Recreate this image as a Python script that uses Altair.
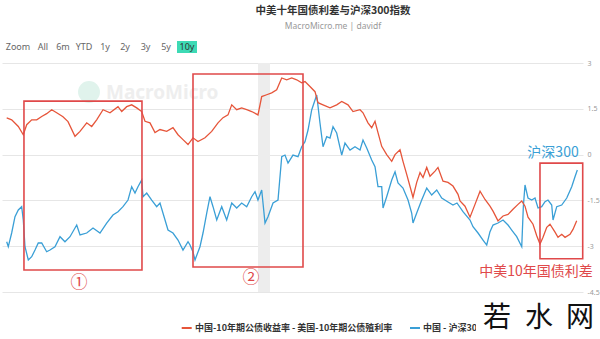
import altair as alt
import pandas as pd

# ---------------- data ----------------
TITLE = "中美十年国债利差与沪深300指数"
SUBTITLE = "MacroMicro.me | davidf"
SPREAD_NAME = "中国-10年期公债收益率 - 美国-10年期公债殖利率"
CSI_NAME = "中国 - 沪深300"
BUTTONS = ["Zoom", "All", "6m", "YTD", "1y", "2y", "3y", "5y", "10y"]

# China-US 10y spread (decimal year, percentage points) - right axis
spread_t = [2015.708, 2015.795, 2015.911, 2015.998, 2016.058, 2016.145, 2016.233, 2016.320, 2016.407, 2016.495,
            2016.582, 2016.692, 2016.780, 2016.902, 2016.990, 2017.107, 2017.194, 2017.281, 2017.392, 2017.514,
            2017.654, 2017.719, 2017.806, 2017.893, 2017.981, 2018.068, 2018.126, 2018.213, 2018.301, 2018.388,
            2018.505, 2018.615, 2018.703, 2018.790, 2018.878, 2018.965, 2019.052, 2019.175, 2019.292, 2019.402,
            2019.490, 2019.577, 2019.642, 2019.729, 2019.816, 2019.904, 2019.991, 2020.101, 2020.166, 2020.253,
            2020.341, 2020.428, 2020.516, 2020.603, 2020.691, 2020.778, 2020.865, 2020.923, 2021.010, 2021.098,
            2021.150, 2021.238, 2021.360, 2021.477, 2021.565, 2021.675, 2021.762, 2021.885, 2021.937, 2022.024,
            2022.089, 2022.147, 2022.199, 2022.264, 2022.351, 2022.439, 2022.497, 2022.584, 2022.636, 2022.701,
            2022.788, 2022.811, 2022.876, 2022.934, 2022.986, 2023.051, 2023.108, 2023.196, 2023.248, 2023.336,
            2023.423, 2023.510, 2023.598, 2023.633, 2023.720, 2023.808, 2023.895, 2023.983, 2024.070, 2024.157,
            2024.210, 2024.297, 2024.385, 2024.472, 2024.559, 2024.647, 2024.712, 2024.769, 2024.822, 2024.909,
            2024.974, 2025.031, 2025.084, 2025.149, 2025.206, 2025.294, 2025.346, 2025.411, 2025.469, 2025.556,
            2025.608, 2025.673]
spread_v = [1.20, 1.14, 0.92, 0.65, 0.98, 1.14, 1.14, 1.25, 1.34, 1.47,
            1.37, 1.24, 1.08, 0.60, 0.76, 1.04, 0.92, 1.14, 1.47, 1.37,
            1.57, 1.41, 1.57, 1.63, 1.53, 1.41, 1.09, 1.04, 0.72, 0.82,
            0.76, 0.88, 0.65, 0.49, 0.33, 0.55, 0.43, 0.55, 0.76, 1.04,
            1.21, 1.30, 1.63, 1.47, 1.53, 1.47, 1.41, 1.30, 1.90, 1.96,
            2.02, 2.12, 2.51, 2.45, 2.51, 2.45, 2.35, 2.39, 2.23, 2.06,
            1.70, 1.63, 1.53, 1.63, 1.74, 1.63, 1.41, 1.47, 1.37, 1.04,
            0.88, 1.09, 0.72, 0.27, 0.00, -0.22, 0.00, 0.16, -0.22, -0.65,
            -1.24, -1.40, -0.91, -0.59, -0.75, -0.42, -0.71, -0.54, -0.42, -0.87,
            -0.91, -1.03, -1.30, -1.52, -1.69, -2.05, -1.63, -1.20, -1.47, -1.69,
            -1.85, -2.17, -2.01, -1.96, -1.79, -1.63, -1.52, -1.69, -2.05, -2.28,
            -2.66, -2.93, -2.71, -2.38, -2.28, -2.54, -2.71, -2.61, -2.71, -2.61,
            -2.45, -2.17]

# CSI 300 index (decimal year, index points) - hidden axis
csi_t = [2015.708, 2015.736, 2015.795, 2015.853, 2015.911, 2015.970, 2015.998, 2016.028, 2016.086, 2016.145,
         2016.203, 2016.260, 2016.320, 2016.407, 2016.465, 2016.552, 2016.640, 2016.727, 2016.815, 2016.932,
         2016.990, 2017.107, 2017.217, 2017.339, 2017.456, 2017.566, 2017.654, 2017.741, 2017.829, 2017.893,
         2017.951, 2018.003, 2018.068, 2018.091, 2018.156, 2018.243, 2018.330, 2018.388, 2018.476, 2018.528,
         2018.615, 2018.703, 2018.790, 2018.878, 2018.913, 2018.965, 2019.000, 2019.087, 2019.140, 2019.205,
         2019.262, 2019.315, 2019.380, 2019.467, 2019.554, 2019.642, 2019.729, 2019.816, 2019.904, 2019.991,
         2020.049, 2020.101, 2020.166, 2020.224, 2020.276, 2020.364, 2020.451, 2020.516, 2020.573, 2020.626,
         2020.713, 2020.801, 2020.865, 2020.923, 2020.976, 2021.040, 2021.098, 2021.128, 2021.185, 2021.238,
         2021.303, 2021.360, 2021.413, 2021.477, 2021.565, 2021.622, 2021.710, 2021.797, 2021.885, 2021.937,
         2022.002, 2022.089, 2022.147, 2022.199, 2022.264, 2022.287, 2022.351, 2022.439, 2022.497, 2022.549,
         2022.636, 2022.724, 2022.788, 2022.811, 2022.876, 2022.963, 2023.051, 2023.138, 2023.226, 2023.313,
         2023.423, 2023.510, 2023.580, 2023.685, 2023.808, 2023.860, 2023.948, 2024.035, 2024.100, 2024.157,
         2024.210, 2024.297, 2024.385, 2024.472, 2024.537, 2024.624, 2024.712, 2024.740, 2024.769, 2024.822,
         2024.887, 2024.944, 2024.997, 2025.061, 2025.119, 2025.171, 2025.236, 2025.259, 2025.324, 2025.411,
         2025.499, 2025.586, 2025.643, 2025.684]
csi_v = [3224, 3136, 3377, 3663, 3781, 3839, 3605, 3136, 2903, 2961,
         3078, 3201, 3201, 3048, 3078, 3136, 3312, 3224, 3312, 3517,
         3342, 3377, 3465, 3377, 3552, 3693, 3751, 3839, 3956, 4190,
         4079, 4190, 4307, 4014, 4079, 3956, 3839, 3904, 3605, 3429,
         3377, 3254, 3078, 3224, 3166, 3043, 2903, 3136, 3377, 3728,
         4014, 3839, 3605, 3839, 3605, 3904, 3816, 3904, 3839, 4014,
         4102, 3956, 4132, 3552, 3663, 3904, 3956, 4717, 4746, 4606,
         4746, 4717, 4892, 4980, 5185, 5537, 5712, 5800, 5308, 4892,
         5068, 5045, 5243, 5133, 4746, 4957, 4834, 4892, 4834, 5010,
         4869, 4659, 4541, 4190, 4190, 3816, 4014, 4307, 4453, 4255,
         4167, 3956, 3728, 3552, 3728, 3956, 4167, 4044, 4132, 3991,
         3921, 3868, 3904, 3751, 3605, 3487, 3377, 3254, 3166, 3400,
         3517, 3552, 3605, 3517, 3429, 3312, 3136, 3839, 4220, 3991,
         3956, 3991, 3816, 3839, 3926, 3956, 3868, 3605, 3839, 3868,
         3991, 4190, 4365, 4483]

# highlighted periods (red boxes), in spread units
box_t1 = [2016.010, 2018.965, 2025.031]
box_t2 = [2018.073, 2020.888, 2025.778]
box_v1 = [1.75, 2.64, -0.28]
box_v2 = [-3.78, -3.68, -3.41]

# recession band
band_t1 = [2020.101]
band_t2 = [2020.311]

# annotations
mark_text_ = ["①", "②"]
mark_t = [2016.972, 2019.979]
mark_v = [-4.20, -4.04]
label_text = ["沪深300", "中美10年国债利差"]
label_kind = ["csi", "spread"]
label_t = [2025.259, 2024.962]
label_v = [0.04, -3.84]

year_ticks = list(range(2016, 2026))
spread_ticks = [-4.5, -3, -1.5, 0, 1.5, 3]

# ---------------- chart ----------------
W, H = 581, 229
RED = "#e6553a"
BLUE = "#3a9fd6"
BOX = "#e0494a"
FONT = "Noto Sans CJK SC"
LATIN = "Noto Sans"

xs = alt.Scale(domain=[2015.626, 2025.783], nice=False, zero=False)
ys = alt.Scale(domain=[-4.5, 3], nice=False, zero=False)
bs = alt.Scale(domain=[2341, 6362], nice=False, zero=False)

one = pd.DataFrame({"k": [0]})


def txt(s, x, y, size, color, weight="normal", align="center", font=FONT):
    return alt.Chart(one).mark_text(
        text=s, fontSize=size, color=color, fontWeight=weight, align=align,
        baseline="middle", font=font
    ).encode(x=alt.value(x), y=alt.value(y))


spread_df = pd.DataFrame({"t": spread_t, "v": spread_v})
csi_df = pd.DataFrame({"t": csi_t, "v": csi_v})
box_df = pd.DataFrame({"t1": box_t1, "t2": box_t2, "v1": box_v1, "v2": box_v2})
band_df = pd.DataFrame({"t1": band_t1, "t2": band_t2})
mark_df = pd.DataFrame({"s": mark_text_, "t": mark_t, "v": mark_v})
label_df = pd.DataFrame({"s": label_text, "kind": label_kind, "t": label_t, "v": label_v})

x_axis = alt.Axis(values=year_ticks, format="d", title=None, grid=False, labelFontSize=8,
                  labelColor="#999999", labelFont=LATIN, tickColor="#ccd6eb", tickSize=5,
                  domainColor="#ccd6eb", labelPadding=3, labelFlush=False)
y_axis = alt.Axis(orient="right", values=spread_ticks, labelExpr="datum.value + ''", title=None,
                  grid=True, gridColor="#e6e6e6", domain=False, ticks=False, labelPadding=4,
                  labelFontSize=7, labelColor="#999999", labelFont=LATIN)

band = alt.Chart(band_df).mark_rect(color="#ededed").encode(
    x=alt.X("t1:Q", scale=xs, axis=None), x2="t2:Q",
    y=alt.value(0), y2=alt.value(H))

logo_dot = alt.Chart(one).mark_point(filled=True, shape="circle", size=480, color="#e0f3ec", opacity=1).encode(
    x=alt.value(87), y=alt.value(29))
logo_txt = txt("MacroMicro", 104, 30, 19, "#eeeeee", weight="bold", align="left", font=LATIN)

blue = alt.Chart(csi_df).mark_line(color=BLUE, strokeWidth=1.3).encode(
    x=alt.X("t:Q", scale=xs, axis=None),
    y=alt.Y("v:Q", scale=bs, axis=None))

red = alt.Chart(spread_df).mark_line(color=RED, strokeWidth=1.3).encode(
    x=alt.X("t:Q", scale=xs, axis=x_axis),
    y=alt.Y("v:Q", scale=ys, axis=y_axis))

boxes = alt.Chart(box_df).mark_rect(fillOpacity=0, stroke=BOX, strokeWidth=1.6).encode(
    x=alt.X("t1:Q", scale=xs, axis=None), x2="t2:Q",
    y=alt.Y("v1:Q", scale=ys, axis=None), y2="v2:Q")

marks = alt.Chart(mark_df).mark_text(fontSize=17, color=BOX, font=FONT, baseline="middle").encode(
    x=alt.X("t:Q", scale=xs, axis=None),
    y=alt.Y("v:Q", scale=ys, axis=None),
    text="s:N")

labels = alt.Chart(label_df).mark_text(fontSize=14, font=FONT, baseline="middle").encode(
    x=alt.X("t:Q", scale=xs, axis=None),
    y=alt.Y("v:Q", scale=ys, axis=None),
    text="s:N",
    color=alt.Color("kind:N", scale=alt.Scale(domain=["csi", "spread"], range=[BLUE, BOX]), legend=None))

# legend
leg_red = alt.Chart(one).mark_rule(color=RED, strokeWidth=2).encode(
    x=alt.value(179.7), x2=alt.value(189.7), y=alt.value(265))
leg_red_t = txt(SPREAD_NAME, 193, 265, 9, "#333333", weight="bold", align="left")
leg_blue = alt.Chart(one).mark_rule(color=BLUE, strokeWidth=2).encode(
    x=alt.value(408), x2=alt.value(418), y=alt.value(265))
leg_blue_t = txt(CSI_NAME, 421, 265, 9, "#333333", weight="bold", align="left")

# header
title = txt(TITLE, 331, -52, 10.5, "#333333", weight="bold")
subtitle = txt(SUBTITLE, 331, -37, 8.5, "#999999", font=LATIN)
btn_bg = alt.Chart(one).mark_rect(color="#3ddab5").encode(
    x=alt.value(175), x2=alt.value(195), y=alt.value(-22), y2=alt.value(-10))
btn_x = [16, 41, 61, 82, 103, 123, 143.5, 164, 185]
btns = [txt(b, bx, -16, 9, "#333333" if b == "10y" else "#666666", font=LATIN)
        for b, bx in zip(BUTTONS, btn_x)]

# site watermark at bottom right
wm_bg = alt.Chart(one).mark_rect(color="white").encode(
    x=alt.value(474), x2=alt.value(598), y=alt.value(237), y2=alt.value(276))
wm = [txt(c, cx, 256, 28, "#111111") for c, cx in zip(["若", "水", "网"], [495, 537, 578])]

chart = alt.layer(
    band, logo_dot, logo_txt, blue, red, boxes, marks, labels,
    leg_red, leg_red_t, leg_blue, leg_blue_t,
    title, subtitle, btn_bg, *btns, wm_bg, *wm
).resolve_scale(y="independent").properties(
    width=W, height=H,
    autosize=alt.AutoSizeParams(type="none"),
    padding={"left": 2, "top": 63, "right": 17, "bottom": 47},
    background="white",
).configure_view(stroke=None)

chart.save("out.html", embed_options={"renderer": "svg", "actions": False})
